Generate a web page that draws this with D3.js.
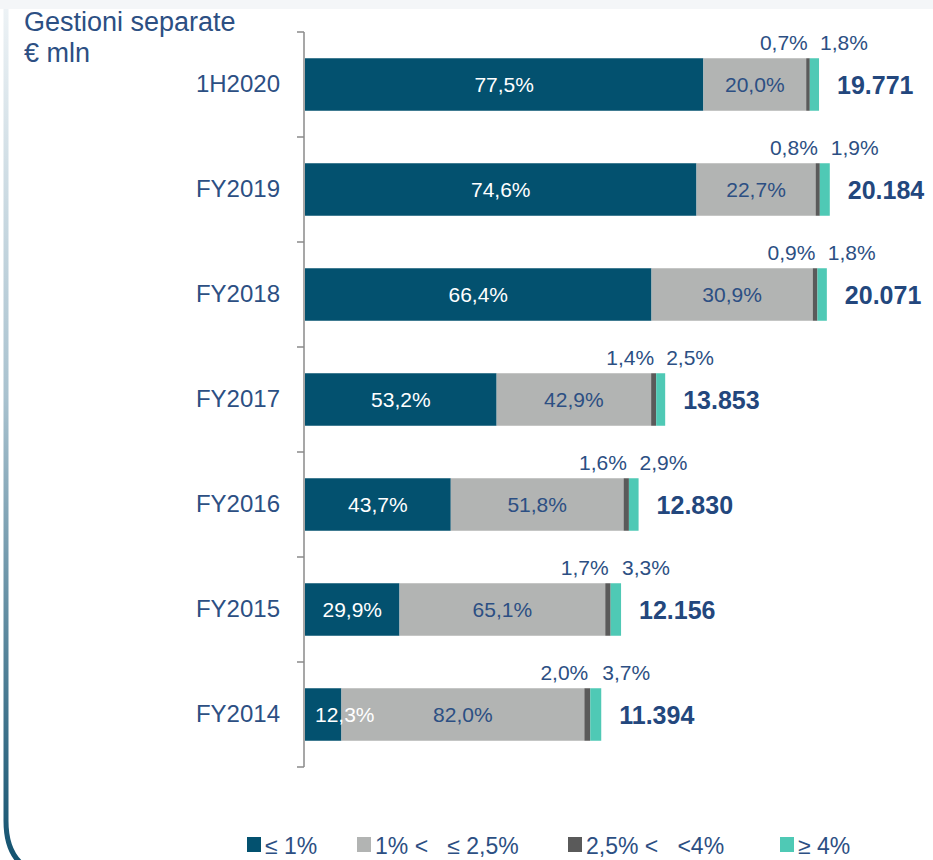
<!DOCTYPE html>
<html>
<head>
<meta charset="utf-8">
<script src="https://cdn.jsdelivr.net/npm/d3@7"></script>
<style>
  body { margin: 0; background: #fff; }
  svg { display: block; font-family: "Liberation Sans", Arial, sans-serif; }
</style>
</head>
<body>
<div id="chart"></div>
<script>
// categories, top to bottom
const periods = ['1H2020', 'FY2019', 'FY2018', 'FY2017', 'FY2016', 'FY2015', 'FY2014'];
// total assets, € mln
const totals = [19771, 20184, 20071, 13853, 12830, 12156, 11394];
// share of each yield bucket, %
const le1 = [77.5, 74.6, 66.4, 53.2, 43.7, 29.9, 12.3];
const from1to25 = [20.0, 22.7, 30.9, 42.9, 51.8, 65.1, 82.0];
const from25to4 = [0.7, 0.8, 0.9, 1.4, 1.6, 1.7, 2.0];
const ge4 = [1.8, 1.9, 1.8, 2.5, 2.9, 3.3, 3.7];
const seriesNames = ['\u2264 1%', '1% <   \u2264 2,5%', '2,5% <   <4%', '\u2265 4%'];
const colors = ['#03516f', '#b2b4b3', '#5a5a5a', '#4fc9b5'];

const W = 933, H = 860;
const textBlue = '#2c4f83';

const it = d3.formatLocale({ decimal: ',', thousands: '.', grouping: [3], currency: ['€', ''] });
const fmtPct = it.format('.1f');
const fmtTot = it.format(',d');

const svg = d3.select('#chart').append('svg')
    .attr('width', W)
    .attr('height', H);

// frame: faint top band, gradient left border with rounded bottom corner
const defs = svg.append('defs');
const grad = defs.append('linearGradient')
    .attr('id', 'frameGrad')
    .attr('gradientUnits', 'userSpaceOnUse')
    .attr('x1', 0).attr('y1', 0).attr('x2', 0).attr('y2', 880);
grad.append('stop').attr('offset', '0%').attr('stop-color', '#eef3f6');
grad.append('stop').attr('offset', '45%').attr('stop-color', '#a9c2cf');
grad.append('stop').attr('offset', '100%').attr('stop-color', '#0d4e6c');

svg.append('rect')
    .attr('x', 0).attr('y', 0)
    .attr('width', W).attr('height', 9)
    .attr('fill', '#f4f6f8');

const r = 55;
svg.append('path')
    .attr('d', `M6,9 L6,${876 - r} Q6,876 ${6 + r},876 L1100,876`)
    .attr('fill', 'none')
    .attr('stroke', 'url(#frameGrad)')
    .attr('stroke-width', 5);

// title
svg.append('text')
    .attr('x', 24).attr('y', 31)
    .attr('fill', textBlue)
    .style('font-size', '27px')
    .text('Gestioni separate');
svg.append('text')
    .attr('x', 24).attr('y', 62)
    .attr('fill', textBlue)
    .style('font-size', '27px')
    .text('€ mln');

// scales
const x0 = 305;
const x = d3.scaleLinear()
    .domain([0, 20000])
    .range([x0, x0 + 520]);

const y = d3.scaleBand()
    .domain(periods)
    .range([32, 767])
    .paddingInner(0.5)
    .paddingOuter(0.25);

// category axis
const yAxis = svg.append('g')
    .attr('transform', `translate(${x0 - 1},0)`)
    .call(d3.axisLeft(y).tickSize(0).tickPadding(24));
yAxis.select('.domain').remove();
yAxis.selectAll('text')
    .attr('fill', textBlue)
    .style('font-size', '24px')
    .style('font-family', '"Liberation Sans", Arial, sans-serif');

const bounds = d3.range(periods.length + 1).map(i => 32 + i * y.step());
svg.append('line')
    .attr('x1', x0 - 1).attr('x2', x0 - 1)
    .attr('y1', bounds[0]).attr('y2', bounds[bounds.length - 1])
    .attr('stroke', '#8a8a8a').attr('stroke-width', 1.5);
svg.selectAll('.tick-mark')
    .data(bounds)
    .enter().append('line')
    .attr('class', 'tick-mark')
    .attr('x1', x0 - 8).attr('x2', x0 - 1)
    .attr('y1', d => d).attr('y2', d => d)
    .attr('stroke', '#8a8a8a').attr('stroke-width', 1.5);

// stacked rows
const rows = periods.map((p, i) => {
    const pcts = [le1[i], from1to25[i], from25to4[i], ge4[i]];
    let acc = 0;
    const segs = pcts.map((v, k) => {
        const s = { k, pct: v, start: acc, end: acc + totals[i] * v / 100 };
        acc = s.end;
        return s;
    });
    return { period: p, total: totals[i], segs };
});

const rowG = svg.selectAll('.row')
    .data(rows)
    .enter().append('g')
    .attr('class', 'row')
    .attr('transform', d => `translate(0,${y(d.period)})`);

const bh = y.bandwidth();

rowG.selectAll('rect')
    .data(d => d.segs)
    .enter().append('rect')
    .attr('x', d => x(d.start))
    .attr('y', 0)
    .attr('width', d => x(d.end) - x(d.start))
    .attr('height', bh)
    .attr('fill', d => colors[d.k]);

// labels
rowG.each(function (d) {
    const g = d3.select(this);
    const s0 = d.segs[0], s1 = d.segs[1], s2 = d.segs[2], s3 = d.segs[3];

    const t0 = g.append('text')
        .attr('y', bh / 2 + 7)
        .attr('fill', '#fff')
        .style('font-size', '21px')
        .text(fmtPct(s0.pct) + '%');
    const w0 = t0.node().getComputedTextLength();
    const seg0w = x(s0.end) - x(s0.start);
    if (seg0w < w0 + 12) {
        t0.attr('x', x(s0.start) + 10).attr('text-anchor', 'start');
    } else {
        t0.attr('x', (x(s0.start) + x(s0.end)) / 2).attr('text-anchor', 'middle');
    }

    g.append('text')
        .attr('x', (x(s1.start) + x(s1.end)) / 2)
        .attr('y', bh / 2 + 7)
        .attr('text-anchor', 'middle')
        .attr('fill', textBlue)
        .style('font-size', '21px')
        .text(fmtPct(s1.pct) + '%');

    // small segments, labelled above the bar
    g.append('text')
        .attr('x', x(s3.start) - 2)
        .attr('y', -8)
        .attr('text-anchor', 'end')
        .attr('fill', textBlue)
        .style('font-size', '21px')
        .text(fmtPct(s2.pct) + '%');
    g.append('text')
        .attr('x', x(s3.end) + 1)
        .attr('y', -8)
        .attr('text-anchor', 'start')
        .attr('fill', textBlue)
        .style('font-size', '21px')
        .text(fmtPct(s3.pct) + '%');

    // total
    g.append('text')
        .attr('x', x(d.total) + 18)
        .attr('y', bh / 2 + 9)
        .attr('fill', '#23477d')
        .style('font-size', '25px')
        .style('font-weight', 'bold')
        .text(fmtTot(d.total));
});

// legend
const legendX = [247, 357, 568, 780];
const legend = svg.selectAll('.legend')
    .data(seriesNames)
    .enter().append('g')
    .attr('class', 'legend')
    .attr('transform', (d, i) => `translate(${legendX[i]},837)`);
legend.append('rect')
    .attr('width', 14).attr('height', 15)
    .attr('fill', (d, i) => colors[i]);
legend.append('text')
    .attr('x', 18).attr('y', 17)
    .attr('fill', textBlue)
    .style('font-size', '23px')
    .style('white-space', 'pre')
    .text(d => d);
</script>
</body>
</html>
